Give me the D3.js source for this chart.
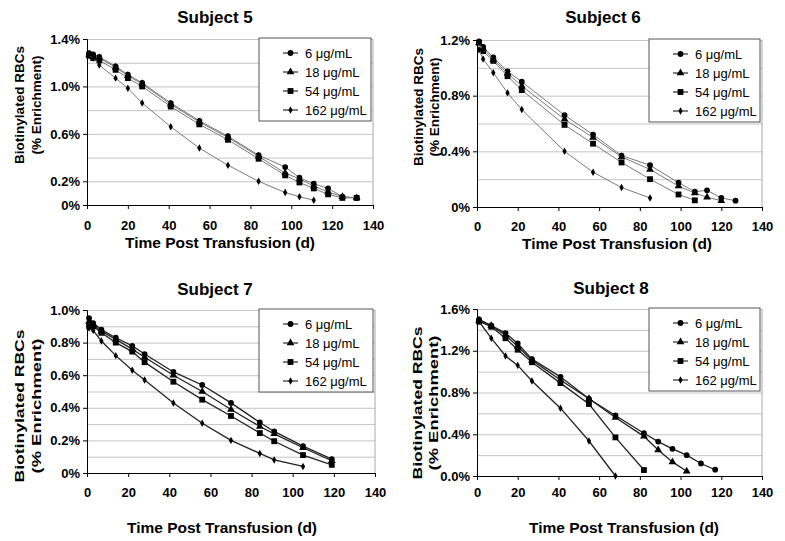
<!DOCTYPE html>
<meta charset="utf-8">
<script src="https://d3js.org/d3.v7.min.js"></script>
<style>
  body { margin: 0; background: #fff; }
  text { font-family: "Liberation Sans", Arial, sans-serif; }
</style>
<div id="chart"></div>
<script>

// series names (legend)
var doses = ["6 \u03bcg/mL", "18 \u03bcg/mL", "54 \u03bcg/mL", "162 \u03bcg/mL"];
var xTicks = [0, 20, 40, 60, 80, 100, 120, 140];

// Subject 5
var days5 = [1, 3, 6, 14, 20, 27, 41, 55, 69, 84, 97, 104, 111, 118, 125, 132];
var s5_6   = [1.28, 1.27, 1.25, 1.17, 1.10, 1.03, 0.86, 0.71, 0.58, 0.42, 0.32, 0.23, 0.18, 0.14, 0.07, 0.06];
var s5_18  = [1.27, 1.25, 1.24, 1.16, 1.09, 1.02, 0.85, 0.70, 0.57, 0.41, 0.27, 0.22, 0.16, 0.11, 0.07, 0.06];
var s5_54  = [1.26, 1.24, 1.22, 1.14, 1.07, 1.00, 0.83, 0.68, 0.55, 0.39, 0.25, 0.19, 0.14, 0.09, 0.06, 0.06];
var s5_162 = [1.26, 1.24, 1.18, 1.07, 0.985, 0.86, 0.66, 0.48, 0.335, 0.20, 0.105, 0.07, 0.04];
var yTicks5 = [0, 0.2, 0.6, 1.0, 1.4];
var yLabels5 = ["0%", "0.2%", "0.6%", "1.0%", "1.4%"];

// Subject 6
var days6 = [1, 3, 8, 15, 22, 43, 57, 71, 85, 99, 107, 113, 120, 127];
var s6_6   = [1.19, 1.15, 1.075, 0.975, 0.90, 0.66, 0.52, 0.37, 0.30, 0.175, 0.11, 0.12, 0.065, 0.045];
var s6_18  = [1.18, 1.14, 1.06, 0.96, 0.87, 0.63, 0.50, 0.36, 0.27, 0.15, 0.10, 0.07, 0.045];
var s6_54  = [1.18, 1.12, 1.05, 0.94, 0.84, 0.59, 0.455, 0.32, 0.20, 0.09, 0.048];
var s6_162 = [1.13, 1.063, 0.965, 0.82, 0.70, 0.40, 0.25, 0.14, 0.065];
var yTicks6 = [0, 0.4, 0.8, 1.2];
var yLabels6 = ["0%", "0.4%", "0.8%", "1.2%"];

// Subject 7
var days7 = [1, 3, 7, 14, 22, 28, 42, 56, 70, 84, 91, 105, 119];
var s7_6   = [0.95, 0.92, 0.88, 0.83, 0.78, 0.73, 0.62, 0.54, 0.43, 0.31, 0.255, 0.165, 0.085];
var s7_18  = [0.93, 0.91, 0.87, 0.82, 0.76, 0.71, 0.60, 0.50, 0.39, 0.285, 0.24, 0.155, 0.075];
var s7_54  = [0.90, 0.90, 0.86, 0.80, 0.745, 0.68, 0.56, 0.45, 0.35, 0.245, 0.195, 0.11, 0.05];
var s7_162 = [0.89, 0.875, 0.81, 0.72, 0.63, 0.57, 0.43, 0.305, 0.20, 0.12, 0.08, 0.04];
var yTicks7 = [0, 0.2, 0.4, 0.6, 0.8, 1.0];
var yLabels7 = ["0%", "0.2%", "0.4%", "0.6%", "0.8%", "1.0%"];

// Subject 8
var days8 = [1, 7, 14, 20, 27, 41, 55, 68, 82, 89, 96, 103, 110, 117];
var s8_6   = [1.50, 1.44, 1.37, 1.27, 1.12, 0.95, 0.74, 0.58, 0.41, 0.33, 0.26, 0.20, 0.12, 0.06];
var s8_18  = [1.49, 1.44, 1.35, 1.24, 1.11, 0.92, 0.74, 0.56, 0.38, 0.25, 0.135, 0.045];
var s8_54  = [1.48, 1.43, 1.32, 1.21, 1.09, 0.89, 0.69, 0.37, 0.057];
var s8_162 = [1.48, 1.32, 1.15, 1.06, 0.91, 0.65, 0.335, 0.0];
var yTicks8 = [0, 0.4, 0.8, 1.2, 1.6];
var yLabels8 = ["0.0%", "0.4%", "0.8%", "1.2%", "1.6%"];

var symbols = [d3.symbolCircle, d3.symbolTriangle, d3.symbolSquare, d3.symbolDiamond];
var symSize = [26, 26, 34, 16];

var panels = [
  {title: "Subject 5", days: days5, series: [s5_6, s5_18, s5_54, s5_162], yMax: 1.4, step: 0.2,
   ticks: yTicks5, labels: yLabels5, left: 87, top: 39, w: 286, h: 166, line: "#7a7a7a", lw: 1,
   titleX: 215, titleY: 23, yt1: 19, yt2: 36, ytY: 105, ytLen: null, tickY: 230, xtX: 220, xtY: 248},
  {title: "Subject 6", days: days6, series: [s6_6, s6_18, s6_54, s6_162], yMax: 1.2, step: 0.2,
   ticks: yTicks6, labels: yLabels6, left: 477, top: 40, w: 285, h: 167, line: "#7a7a7a", lw: 1,
   titleX: 603, titleY: 23, yt1: 418, yt2: 434, ytY: 107, ytLen: null, tickY: 231, xtX: 617, xtY: 249},
  {title: "Subject 7", days: days7, series: [s7_6, s7_18, s7_54, s7_162], yMax: 1.0, step: 0.1,
   ticks: yTicks7, labels: yLabels7, left: 87, top: 310, w: 288, h: 163, line: "#222", lw: 1.3,
   titleX: 215, titleY: 295, yt1: 19, yt2: 36, ytY: 406, ytLen: [153, 135], tickY: 497, xtX: 222, xtY: 533},
  {title: "Subject 8", days: days8, series: [s8_6, s8_18, s8_54, s8_162], yMax: 1.6, step: 0.2,
   ticks: yTicks8, labels: yLabels8, left: 477, top: 309, w: 285, h: 167, line: "#222", lw: 1.3,
   titleX: 611, titleY: 294, yt1: 417, yt2: 433, ytY: 403, ytLen: [153, 135], tickY: 497, xtX: 624, xtY: 533}
];

var svg = d3.select("#chart").append("svg")
    .attr("width", 785)
    .attr("height", 541);

panels.forEach(function(p) {
  var x = d3.scaleLinear().domain([0, 140]).range([p.left, p.left + p.w]);
  var y = d3.scaleLinear().domain([0, p.yMax]).range([p.top + p.h, p.top]);
  var g = svg.append("g");

  // gridlines
  g.append("g")
    .attr("transform", "translate(" + p.left + ",0)")
    .call(d3.axisLeft(y).tickValues(d3.range(0, p.yMax + 1e-6, p.step)).tickSize(-p.w).tickFormat(""))
    .call(function(a) { a.select(".domain").remove(); })
    .selectAll("line").attr("stroke", "#c4c4c4");

  // right frame edge
  g.append("line")
    .attr("x1", p.left + p.w).attr("x2", p.left + p.w)
    .attr("y1", p.top).attr("y2", p.top + p.h)
    .attr("stroke", "#a8a8a8");

  // y axis
  var ya = g.append("g")
    .attr("transform", "translate(" + p.left + ",0)")
    .call(d3.axisLeft(y).tickValues(p.ticks).tickSize(4).tickPadding(3)
      .tickFormat(function(d, i) { return p.labels[i]; }));
  ya.select(".domain").attr("stroke", "#000");
  ya.selectAll("text").attr("font-size", 13).attr("font-weight", "bold").attr("fill", "#000")
    .attr("font-family", "Liberation Sans, Arial, sans-serif");

  // x axis
  var xa = g.append("g")
    .attr("transform", "translate(0," + (p.top + p.h) + ")")
    .call(d3.axisBottom(x).tickValues(xTicks).tickSize(4).tickSizeOuter(0));
  xa.select(".domain").attr("stroke", "#000");
  xa.selectAll("text")
    .attr("y", null).attr("dy", null)
    .attr("transform", "translate(0," + (p.tickY - p.top - p.h) + ")")
    .attr("font-size", 13).attr("font-weight", "bold").attr("fill", "#000")
    .attr("font-family", "Liberation Sans, Arial, sans-serif");

  // lines and markers
  p.series.forEach(function(vals, si) {
    var pts = vals.map(function(v, i) { return [p.days[i], v]; });
    g.append("path")
      .datum(pts)
      .attr("fill", "none")
      .attr("stroke", p.line)
      .attr("stroke-width", p.lw)
      .attr("d", d3.line().x(function(d) { return x(d[0]); }).y(function(d) { return y(d[1]); }));
    g.selectAll(null)
      .data(pts)
      .enter()
      .append("path")
      .attr("transform", function(d) { return "translate(" + x(d[0]) + "," + y(d[1]) + ")"; })
      .attr("d", d3.symbol().type(symbols[si]).size(symSize[si]))
      .attr("fill", "#000");
  });

  // legend
  var lx = p.left + 172, ly = p.top - 1, lw = p.left + p.w - 2 - lx;
  var leg = g.append("g");
  leg.append("rect")
    .attr("x", lx).attr("y", ly).attr("width", lw).attr("height", 83)
    .attr("fill", "#fff").attr("stroke", "#555");
  doses.forEach(function(name, i) {
    var yy = ly + 15 + i * 19;
    leg.append("line")
      .attr("x1", lx + 24).attr("x2", lx + 39).attr("y1", yy).attr("y2", yy)
      .attr("stroke", "#000");
    leg.append("path")
      .attr("transform", "translate(" + (lx + 31.5) + "," + yy + ")")
      .attr("d", d3.symbol().type(symbols[i]).size(symSize[i]))
      .attr("fill", "#000");
    leg.append("text")
      .attr("x", lx + 46).attr("y", yy + 4.5)
      .attr("font-size", 13)
      .text(name);
  });

  // titles
  g.append("text")
    .attr("x", p.titleX).attr("y", p.titleY)
    .attr("text-anchor", "middle")
    .attr("font-size", 17).attr("font-weight", "bold")
    .text(p.title);

  g.append("text")
    .attr("x", p.xtX).attr("y", p.xtY)
    .attr("text-anchor", "middle")
    .attr("font-size", 15.5).attr("font-weight", "bold")
    .text("Time Post Transfusion (d)");

  [["Biotinylated RBCs", p.yt1], ["(% Enrichment)", p.yt2]].forEach(function(t, k) {
    var tt = g.append("text")
      .attr("transform", "translate(" + (t[1] + 5) + "," + p.ytY + ") rotate(-90)")
      .attr("text-anchor", "middle")
      .attr("font-size", 13.5).attr("font-weight", "bold")
      .text(t[0]);
    if (p.ytLen) {
      tt.attr("textLength", p.ytLen[k]).attr("lengthAdjust", "spacingAndGlyphs");
    }
  });
});

</script>
